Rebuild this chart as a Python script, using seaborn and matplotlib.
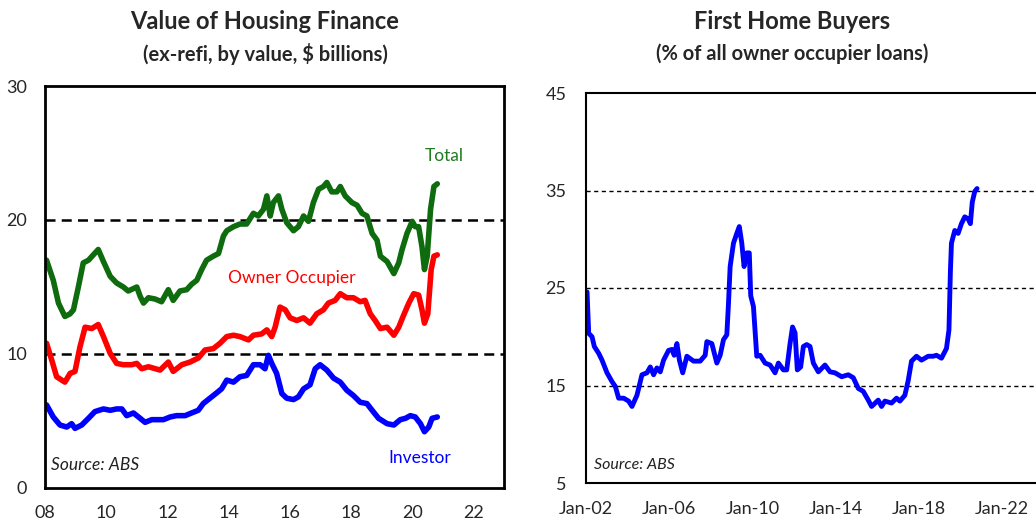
import matplotlib
matplotlib.use('Agg')
import matplotlib.pyplot as plt
import seaborn as sns
import numpy as np
import pandas as pd

# ============================================================
# DATA
# ============================================================

# Left panel: value of housing finance, $bn (x = decimal year)
total_x = [2008.05, 2008.27, 2008.44, 2008.65, 2008.82, 2008.93, 2009.09, 2009.25, 2009.42,
           2009.58, 2009.74, 2009.91, 2010.13, 2010.34, 2010.56, 2010.72, 2011.0, 2011.11,
           2011.22, 2011.38, 2011.6, 2011.81, 2012.03, 2012.19, 2012.41, 2012.63, 2012.79,
           2012.96, 2013.12, 2013.28, 2013.5, 2013.67, 2013.83, 2013.94, 2014.16, 2014.37,
           2014.59, 2014.81, 2014.97, 2015.14, 2015.25, 2015.36, 2015.46, 2015.63, 2015.74,
           2015.9, 2016.12, 2016.28, 2016.45, 2016.61, 2016.77, 2016.94, 2017.1, 2017.21,
           2017.37, 2017.54, 2017.65, 2017.81, 2018.03, 2018.2, 2018.36, 2018.52, 2018.69,
           2018.85, 2018.96, 2019.18, 2019.4, 2019.56, 2019.67, 2019.83, 2020.0, 2020.1,
           2020.21, 2020.32, 2020.4, 2020.49, 2020.6, 2020.71, 2020.82]
total_y = [17.0, 15.5, 13.8, 12.8, 13.0, 13.3, 15.0, 16.8, 17.0,
           17.4, 17.8, 16.9, 15.8, 15.3, 15.0, 14.7, 15.0, 14.3,
           13.8, 14.2, 14.1, 13.9, 14.8, 14.0, 14.7, 14.8, 15.2,
           15.5, 16.3, 17.0, 17.3, 17.5, 18.8, 19.2, 19.5, 19.7,
           19.7, 20.5, 20.3, 20.8, 21.8, 20.3, 21.3, 21.8, 20.8,
           19.8, 19.2, 19.5, 20.3, 19.9, 21.3, 22.3, 22.5, 22.8,
           22.1, 22.1, 22.5, 21.8, 21.3, 21.1, 20.5, 20.3, 19.0,
           18.5, 17.3, 16.9, 16.0, 16.8, 17.8, 19.0, 19.9, 19.5,
           19.5, 18.0, 16.3, 17.3, 20.8, 22.5, 22.7]

owner_x = [2008.05, 2008.22, 2008.38, 2008.65, 2008.82, 2008.98, 2009.14, 2009.31, 2009.53,
           2009.74, 2009.91, 2010.13, 2010.34, 2010.56, 2010.83, 2011.0, 2011.16, 2011.38,
           2011.76, 2012.03, 2012.19, 2012.47, 2012.74, 2013.01, 2013.23, 2013.5, 2013.72,
           2013.94, 2014.16, 2014.37, 2014.65, 2014.81, 2015.08, 2015.25, 2015.41, 2015.52,
           2015.68, 2015.85, 2016.01, 2016.23, 2016.45, 2016.66, 2016.88, 2017.1, 2017.26,
           2017.48, 2017.65, 2017.86, 2018.08, 2018.3, 2018.46, 2018.63, 2018.79, 2018.96,
           2019.18, 2019.4, 2019.56, 2019.72, 2019.89, 2020.05, 2020.21, 2020.32, 2020.4,
           2020.51, 2020.62, 2020.71, 2020.82]
owner_y = [10.8, 9.55, 8.3, 7.9, 8.55, 8.7, 10.5, 12.0, 11.9,
           12.2, 11.3, 10.05, 9.3, 9.2, 9.2, 9.3, 8.9, 9.05,
           8.8, 9.4, 8.7, 9.2, 9.4, 9.7, 10.3, 10.4, 10.8,
           11.3, 11.4, 11.3, 11.05, 11.4, 11.5, 11.8, 11.3, 12.0,
           13.5, 13.3, 12.7, 12.5, 12.7, 12.3, 13.0, 13.3, 13.8,
           14.0, 14.5, 14.2, 14.2, 13.9, 14.0, 13.0, 12.5, 11.9,
           12.0, 11.4, 12.0, 12.9, 13.8, 14.5, 14.4, 13.3, 12.3,
           13.0, 16.3, 17.3, 17.4]

investor_x = [2008.05, 2008.27, 2008.49, 2008.71, 2008.87, 2008.98, 2009.2, 2009.42, 2009.63,
              2009.91, 2010.13, 2010.34, 2010.51, 2010.67, 2010.89, 2011.11, 2011.27, 2011.49,
              2011.71, 2011.87, 2012.09, 2012.3, 2012.58, 2012.79, 2013.01, 2013.17, 2013.39,
              2013.61, 2013.77, 2013.94, 2014.16, 2014.37, 2014.59, 2014.81, 2015.03, 2015.19,
              2015.3, 2015.41, 2015.57, 2015.74, 2015.9, 2016.12, 2016.28, 2016.45, 2016.66,
              2016.83, 2016.99, 2017.21, 2017.43, 2017.65, 2017.86, 2018.08, 2018.3, 2018.52,
              2018.69, 2018.9, 2019.18, 2019.4, 2019.61, 2019.78, 2019.94, 2020.1, 2020.27,
              2020.4, 2020.54, 2020.65, 2020.82]
investor_y = [6.2, 5.3, 4.7, 4.55, 4.8, 4.45, 4.7, 5.2, 5.7,
              5.9, 5.8, 5.9, 5.9, 5.4, 5.6, 5.2, 4.9, 5.1,
              5.1, 5.1, 5.3, 5.4, 5.4, 5.6, 5.8, 6.3, 6.7,
              7.1, 7.4, 8.05, 7.9, 8.3, 8.4, 9.2, 9.2, 8.9,
              9.9, 9.3, 8.55, 7.05, 6.7, 6.6, 6.8, 7.4, 7.7,
              8.9, 9.2, 8.8, 8.2, 7.9, 7.3, 6.9, 6.4, 6.3,
              5.8, 5.2, 4.8, 4.7, 5.1, 5.2, 5.4, 5.3, 4.8,
              4.2, 4.55, 5.2, 5.3]

left_ticks = [2008, 2010, 2012, 2014, 2016, 2018, 2020, 2022]
left_ticklabels = ['08', '10', '12', '14', '16', '18', '20', '22']
left_yticks = [0, 10, 20, 30]

# Right panel: first home buyers, % of owner occupier loans
fhb_x = [2002.05, 2002.13, 2002.29, 2002.4, 2002.61, 2002.77, 2003.01, 2003.25, 2003.41,
         2003.57, 2003.81, 2004.05, 2004.21, 2004.45, 2004.69, 2004.93, 2005.09, 2005.25,
         2005.41, 2005.57, 2005.73, 2005.97, 2006.13, 2006.24, 2006.37, 2006.49, 2006.65,
         2006.85, 2007.17, 2007.49, 2007.73, 2007.81, 2008.05, 2008.29, 2008.45, 2008.61,
         2008.77, 2008.85, 2008.93, 2009.09, 2009.25, 2009.37, 2009.49, 2009.6, 2009.73,
         2009.85, 2009.92, 2010.05, 2010.21, 2010.37, 2010.61, 2010.85, 2011.09, 2011.25,
         2011.49, 2011.65, 2011.81, 2011.93, 2012.05, 2012.16, 2012.32, 2012.45, 2012.61,
         2012.77, 2012.93, 2013.17, 2013.49, 2013.73, 2013.97, 2014.29, 2014.61, 2014.85,
         2015.09, 2015.33, 2015.57, 2015.73, 2016.05, 2016.21, 2016.37, 2016.69, 2016.93,
         2017.09, 2017.33, 2017.49, 2017.65, 2017.89, 2018.13, 2018.45, 2018.69, 2018.85,
         2019.09, 2019.33, 2019.45, 2019.52, 2019.57, 2019.73, 2019.89, 2020.05, 2020.21,
         2020.37, 2020.48, 2020.57, 2020.69, 2020.8]
fhb_y = [24.6, 20.35, 20.0, 19.0, 18.3, 17.6, 16.3, 15.4, 14.9,
         13.7, 13.7, 13.4, 12.85, 14.0, 16.1, 16.3, 16.9, 16.1,
         16.8, 16.4, 17.6, 18.6, 18.7, 18.1, 19.3, 17.6, 16.3,
         18.0, 17.5, 17.5, 18.1, 19.5, 19.3, 17.3, 18.1, 19.7,
         20.2, 23.4, 27.2, 29.6, 30.6, 31.3, 29.6, 27.2, 28.6,
         28.6, 24.2, 23.1, 18.0, 18.1, 17.3, 17.1, 16.3, 17.3,
         16.6, 16.6, 19.3, 21.0, 20.4, 16.6, 16.9, 19.0, 19.2,
         19.0, 17.3, 16.4, 17.1, 16.4, 16.3, 15.9, 16.1, 15.8,
         14.7, 14.4, 13.5, 12.85, 13.5, 12.85, 13.4, 13.2, 13.7,
         13.4, 14.0, 15.5, 17.5, 18.0, 17.6, 18.0, 18.0, 18.1,
         17.8, 18.8, 20.7, 26.8, 29.6, 30.9, 30.6, 31.6, 32.3,
         32.1, 31.6, 33.8, 34.9, 35.2]

right_ticks = [2002, 2006, 2010, 2014, 2018, 2022]
right_ticklabels = ['Jan-02', 'Jan-06', 'Jan-10', 'Jan-14', 'Jan-18', 'Jan-22']
right_yticks = [5, 15, 25, 35, 45]

# ============================================================
# STYLE
# ============================================================

sns.set_style('white')
plt.rcParams['font.family'] = ['Lato', 'DejaVu Sans']

GREEN = '#0E6B0E'
RED = '#FF0000'
BLUE = '#0000FF'

W, H = 1036, 519
fig = plt.figure(figsize=(W / 100, H / 100), dpi=100)

# left panel
ax1 = fig.add_axes([45 / W, 1 - 488 / H, 459 / W, 402 / H])
df_left = pd.concat([
    pd.DataFrame({'x': total_x, 'y': total_y, 'series': 'Total'}),
    pd.DataFrame({'x': owner_x, 'y': owner_y, 'series': 'Owner Occupier'}),
    pd.DataFrame({'x': investor_x, 'y': investor_y, 'series': 'Investor'}),
])
sns.lineplot(data=df_left, x='x', y='y', hue='series', sort=False, ax=ax1,
             palette={'Total': GREEN, 'Owner Occupier': RED, 'Investor': BLUE},
             linewidth=4, legend=False)
for yv in [10, 20]:
    ax1.axhline(yv, color='black', linestyle=(0, (4, 2.5)), linewidth=1.8, zorder=1)
ax1.set_xlim(2008, 2023)
ax1.set_ylim(0, 30)
ax1.set_xticks(left_ticks)
ax1.set_xticklabels(left_ticklabels)
ax1.set_yticks(left_yticks)
ax1.tick_params(axis='x', direction='in', length=5, width=1.2, color='black',
                labelsize=13, pad=12)
ax1.tick_params(axis='y', length=0, labelsize=13, pad=13)
ax1.set_xlabel('')
ax1.set_ylabel('')
for sp in ax1.spines.values():
    sp.set_color('black')
    sp.set_linewidth(2)
ax1.text(2021.05, 24.8, 'Total', color='#1E7B1E', fontsize=12.5, ha='center', va='center')
ax1.text(2016.05, 15.7, 'Owner Occupier', color=RED, fontsize=12.5, ha='center', va='center')
ax1.text(2020.25, 2.25, 'Investor', color=BLUE, fontsize=12.5, ha='center', va='center')
ax1.text(2008.2, 1.75, 'Source: ABS', color='#222222', fontsize=12.5, style='italic',
         ha='left', va='center')

# right panel
ax2 = fig.add_axes([586 / W, 1 - 483 / H, 22 * 20.8 / W, 390 / H])
sns.lineplot(x=fhb_x, y=fhb_y, sort=False, ax=ax2, color=BLUE, linewidth=3.5)
for yv in [15, 25, 35]:
    ax2.axhline(yv, color='black', linestyle=(0, (3, 2.5)), linewidth=1.0, zorder=1)
ax2.set_xlim(2002, 2024)
ax2.set_ylim(5, 45)
ax2.set_xticks(right_ticks)
ax2.set_xticklabels(right_ticklabels)
ax2.set_yticks(right_yticks)
ax2.tick_params(axis='x', direction='in', length=5, width=1.0, color='black',
                labelsize=13, pad=13)
ax2.tick_params(axis='y', length=0, labelsize=13, pad=14)
for sp in ax2.spines.values():
    sp.set_color('black')
    sp.set_linewidth(1.5)
ax2.text(2002.4, 6.8, 'Source: ABS', color='#222222', fontsize=11.5, style='italic',
         ha='left', va='center')

# titles
fig.text(265 / W, 1 - 22 / H, 'Value of Housing Finance', ha='center', va='center',
         fontsize=17, fontweight='bold')
fig.text(265 / W, 1 - 54 / H, '(ex-refi, by value, $ billions)', ha='center', va='center',
         fontsize=14.5, fontweight='bold')
fig.text(792 / W, 1 - 22 / H, 'First Home Buyers', ha='center', va='center',
         fontsize=17, fontweight='bold')
fig.text(792 / W, 1 - 54 / H, '(% of all owner occupier loans)', ha='center', va='center',
         fontsize=14.5, fontweight='bold')

fig.savefig('out.png', dpi=100)
